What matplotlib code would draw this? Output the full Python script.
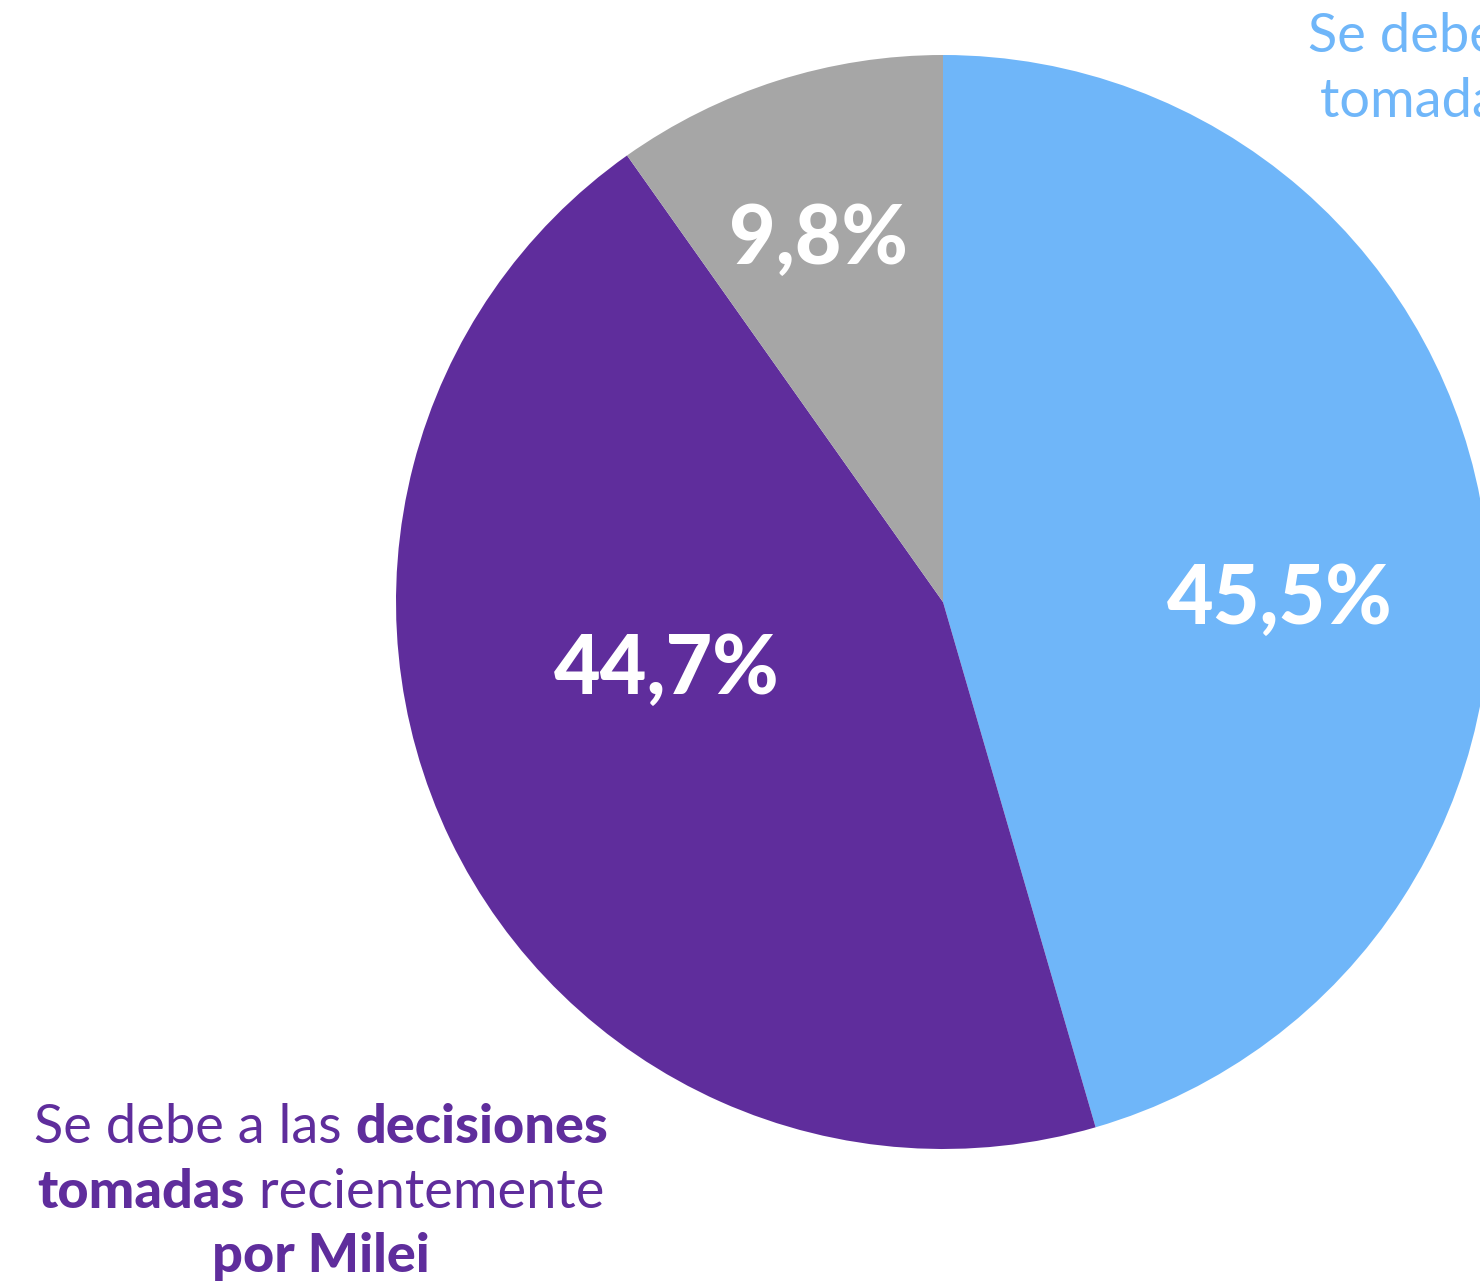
import matplotlib
matplotlib.use('Agg')
import matplotlib.pyplot as plt

# Datos del gráfico
categorias = ['Gobiernos anteriores', 'Decisiones de Milei', 'Otros']
valores = [45.5, 44.7, 9.8]
etiquetas = ['45,5%', '44,7%', '9,8%']
colores = ['#6FB6F9', '#5F2D9C', '#A6A6A6']

plt.rcParams['font.family'] = ['Lato', 'DejaVu Sans']

W, H = 1480, 1284
fig = plt.figure(figsize=(W / 100, H / 100), dpi=100)
ax = fig.add_axes([0, 0, 1, 1])

# Pie en coordenadas de píxeles (y hacia arriba)
cx, cy, r = 943, H - 602, 547
ax.pie(valores, colors=colores, startangle=90, counterclock=False,
       center=(cx, cy), radius=r, wedgeprops=dict(linewidth=0))
ax.set_xlim(0, W)
ax.set_ylim(0, H)
ax.set_aspect('equal')
ax.axis('off')

# Etiquetas de porcentaje
pos_etiquetas = [(1280, 600), (667, 670), (818, 240)]
for txt, (x, y) in zip(etiquetas, pos_etiquetas):
    ax.text(x, H - y, txt, ha='center', va='center', color='white',
            fontsize=58, fontweight='black')

renderer = fig.canvas.get_renderer()


def linea_mixta(partes, xc, y_base, color, size):
    # dibuja una linea con partes normales y en negrita, centrada en xc
    textos = []
    for s, w in partes:
        t = ax.text(0, H - y_base, s, ha='left', va='baseline', color=color,
                    fontsize=size, fontweight=w)
        textos.append(t)
    anchos = []
    for t in textos:
        bb = t.get_window_extent(renderer)
        anchos.append(bb.width)
    total = sum(anchos)
    x = xc - total / 2
    for t, a in zip(textos, anchos):
        t.set_x(x)
        x += a


morado = '#5F2D9C'
linea_mixta([('Se debe a las ', 'normal'), ('decisiones', 'black')], 321, 1143, morado, 39)
linea_mixta([('tomadas', 'black'), (' recientemente', 'normal')], 321, 1208, morado, 39)
linea_mixta([('por Milei', 'black')], 321, 1272, morado, 39)

# Texto de la derecha (cortado por el borde)
azul = '#6FB6F9'
ax.text(1308, H - 52, 'Se debe a las decisiones', ha='left', va='baseline',
        color=azul, fontsize=39, fontweight='normal')
ax.text(1320, H - 117, 'tomadas por gobiernos anteriores', ha='left', va='baseline',
        color=azul, fontsize=39, fontweight='normal')

fig.savefig('out.png', dpi=100)
